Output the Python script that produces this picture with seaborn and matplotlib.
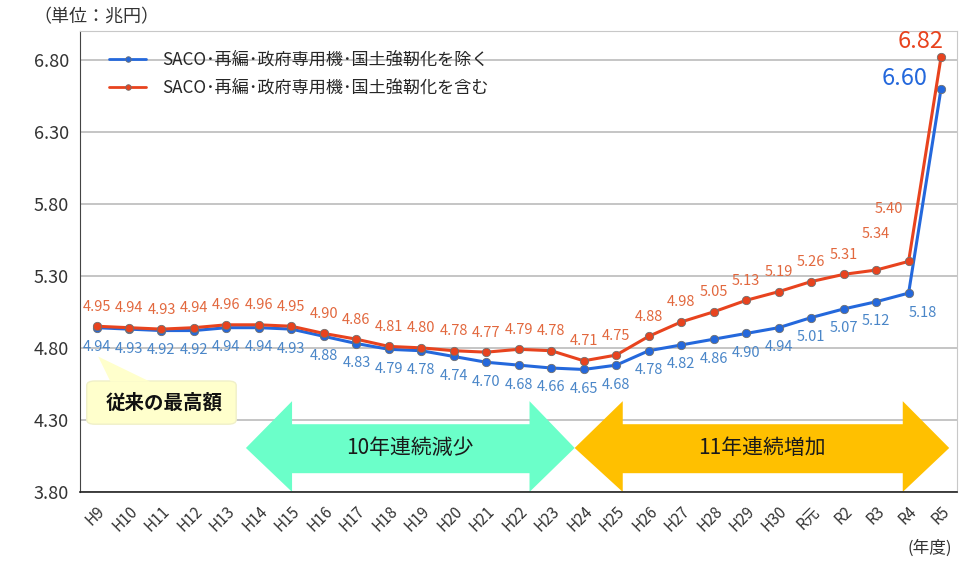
import numpy as np
import pandas as pd
import seaborn as sns
import matplotlib.pyplot as plt
from matplotlib.patches import Polygon, FancyBboxPatch

sns.set_style("white")
plt.rcParams['font.family'] = ['Noto Sans CJK JP', 'DejaVu Sans']

years = ['H9', 'H10', 'H11', 'H12', 'H13', 'H14', 'H15', 'H16', 'H17', 'H18',
         'H19', 'H20', 'H21', 'H22', 'H23', 'H24', 'H25', 'H26', 'H27', 'H28',
         'H29', 'H30', 'R元', 'R2', 'R3', 'R4', 'R5']
excl = [4.94, 4.93, 4.92, 4.92, 4.94, 4.94, 4.93, 4.88, 4.83, 4.79,
        4.78, 4.74, 4.70, 4.68, 4.66, 4.65, 4.68, 4.78, 4.82, 4.86,
        4.90, 4.94, 5.01, 5.07, 5.12, 5.18, 6.60]
incl = [4.95, 4.94, 4.93, 4.94, 4.96, 4.96, 4.95, 4.90, 4.86, 4.81,
        4.80, 4.78, 4.77, 4.79, 4.78, 4.71, 4.75, 4.88, 4.98, 5.05,
        5.13, 5.19, 5.26, 5.31, 5.34, 5.40, 6.82]
name_excl = 'SACO･再編･政府専用機･国土強靭化を除く'
name_incl = 'SACO･再編･政府専用機･国土強靭化を含む'

blue = '#2468DC'
red = '#E8431E'
blue_lbl = '#4A86C8'
red_lbl = '#E2683E'

df = pd.DataFrame({
    'year': years * 2,
    'value': excl + incl,
    'series': [name_excl] * len(years) + [name_incl] * len(years),
})

fig = plt.figure(figsize=(9.67, 5.72), dpi=100)
ax = fig.add_axes([0.083, 0.14, 0.907, 0.806])

sns.lineplot(data=df, x='year', y='value', hue='series', sort=False,
             palette={name_excl: blue, name_incl: red}, marker='o',
             markersize=6, markeredgecolor='#707070', markeredgewidth=0.6,
             linewidth=2.2, ax=ax)

n = len(years)
ax.set_xlim(-0.5, n - 0.5)
ax.set_ylim(3.8, 7.0)
ax.set_yticks(np.arange(3.8, 6.81, 0.5))
ax.set_yticklabels([f'{v:.2f}' for v in np.arange(3.8, 6.81, 0.5)],
                   fontsize=13, color='#333333')
ax.set_xticks(range(n))
ax.set_xticklabels(years, rotation=45, ha='right', rotation_mode='anchor',
                   fontsize=11, color='#333333')
ax.set_xticks(np.arange(-0.5, n, 1), minor=True)
ax.tick_params(axis='x', which='major', length=0, pad=8)
ax.tick_params(axis='x', which='minor', length=5, direction='out', width=1, color='#222222')
ax.tick_params(axis='y', length=0, pad=8)
ax.set_xlabel('')
ax.set_ylabel('')
ax.yaxis.grid(True, color='#BBBBBB', linewidth=1.2)
ax.set_axisbelow(True)
for s in ['top', 'right']:
    ax.spines[s].set_color('#C8C8C8')
ax.spines['left'].set_color('#444444')
ax.spines['bottom'].set_color('#222222')
ax.spines['bottom'].set_linewidth(1.2)

# data labels
for i, (b, r) in enumerate(zip(excl[:-1], incl[:-1])):
    dy_r, dx_r = 14, 0
    dy_b, dx_b = -14, 0
    if years[i] == 'R3':
        dy_r = 26
    if years[i] == 'R4':
        dy_r, dx_r = 38, -14
        dx_b = 10
    ax.annotate(f'{r:.2f}', (i, r), xytext=(dx_r, dy_r), textcoords='offset points',
                ha='center', va='center', fontsize=10.5, color=red_lbl)
    ax.annotate(f'{b:.2f}', (i, b), xytext=(dx_b, dy_b), textcoords='offset points',
                ha='center', va='center', fontsize=10.5, color=blue_lbl)
ax.annotate(f'{incl[-1]:.2f}', (n - 1, incl[-1]), xytext=(-15, 11),
            textcoords='offset points', ha='center', va='center',
            fontsize=17, color=red)
ax.annotate(f'{excl[-1]:.2f}', (n - 1, excl[-1]), xytext=(-26, 7),
            textcoords='offset points', ha='center', va='center',
            fontsize=17, color=blue)

# double arrows
def double_arrow(x0, xh0, xh1, x1, color):
    yc, hh, bh = 4.105, 4.43, 4.27
    yb, hb = 3.80, 3.93
    pts = [(x0, yc), (xh0, hh), (xh0, bh), (xh1, bh), (xh1, hh), (x1, yc),
           (xh1, yb), (xh1, hb), (xh0, hb), (xh0, yb)]
    ax.add_patch(Polygon(pts, closed=True, facecolor=color, edgecolor='none',
                         zorder=1.5, clip_on=False))

double_arrow(4.6, 6.02, 13.33, 14.72, '#6BFFC9')
double_arrow(14.72, 16.2, 24.82, 26.25, '#FFC000')
ax.text(9.66, 4.105, '10年連続減少', ha='center', va='center', fontsize=15,
        color='#1a1a1a', zorder=3)
ax.text(20.48, 4.105, '11年連続増加', ha='center', va='center', fontsize=15,
        color='#1a1a1a', zorder=3)

# callout
ax.add_patch(FancyBboxPatch((-0.3, 4.27), 4.6, 0.3,
                            boxstyle='round,pad=0,rounding_size=0.25',
                            mutation_aspect=0.12, facecolor='#FFFFCC',
                            edgecolor='#F0F0C8', zorder=2))
ax.add_patch(Polygon([(0.05, 4.74), (0.43, 4.565), (1.65, 4.565)], closed=True,
                     facecolor='#FFFFCC', edgecolor='none', zorder=2))
ax.text(2.07, 4.42, '従来の最高額', ha='center', va='center', fontsize=14,
        fontweight='bold', color='#111111', zorder=3)

leg = ax.legend(loc='upper left', bbox_to_anchor=(0.015, 0.99), frameon=False,
                fontsize=12.3, handlelength=2.2, handletextpad=0.9, labelspacing=0.6)
for h in leg.legend_handles:
    h.set_markersize(4)
    h.set_linewidth(2)

fig.text(0.035, 0.97, '（単位：兆円）', fontsize=13, color='#333333', va='center')
fig.text(0.985, 0.042, '(年度)', fontsize=12, color='#333333', ha='right', va='center')

fig.savefig('out.png', dpi=100)
